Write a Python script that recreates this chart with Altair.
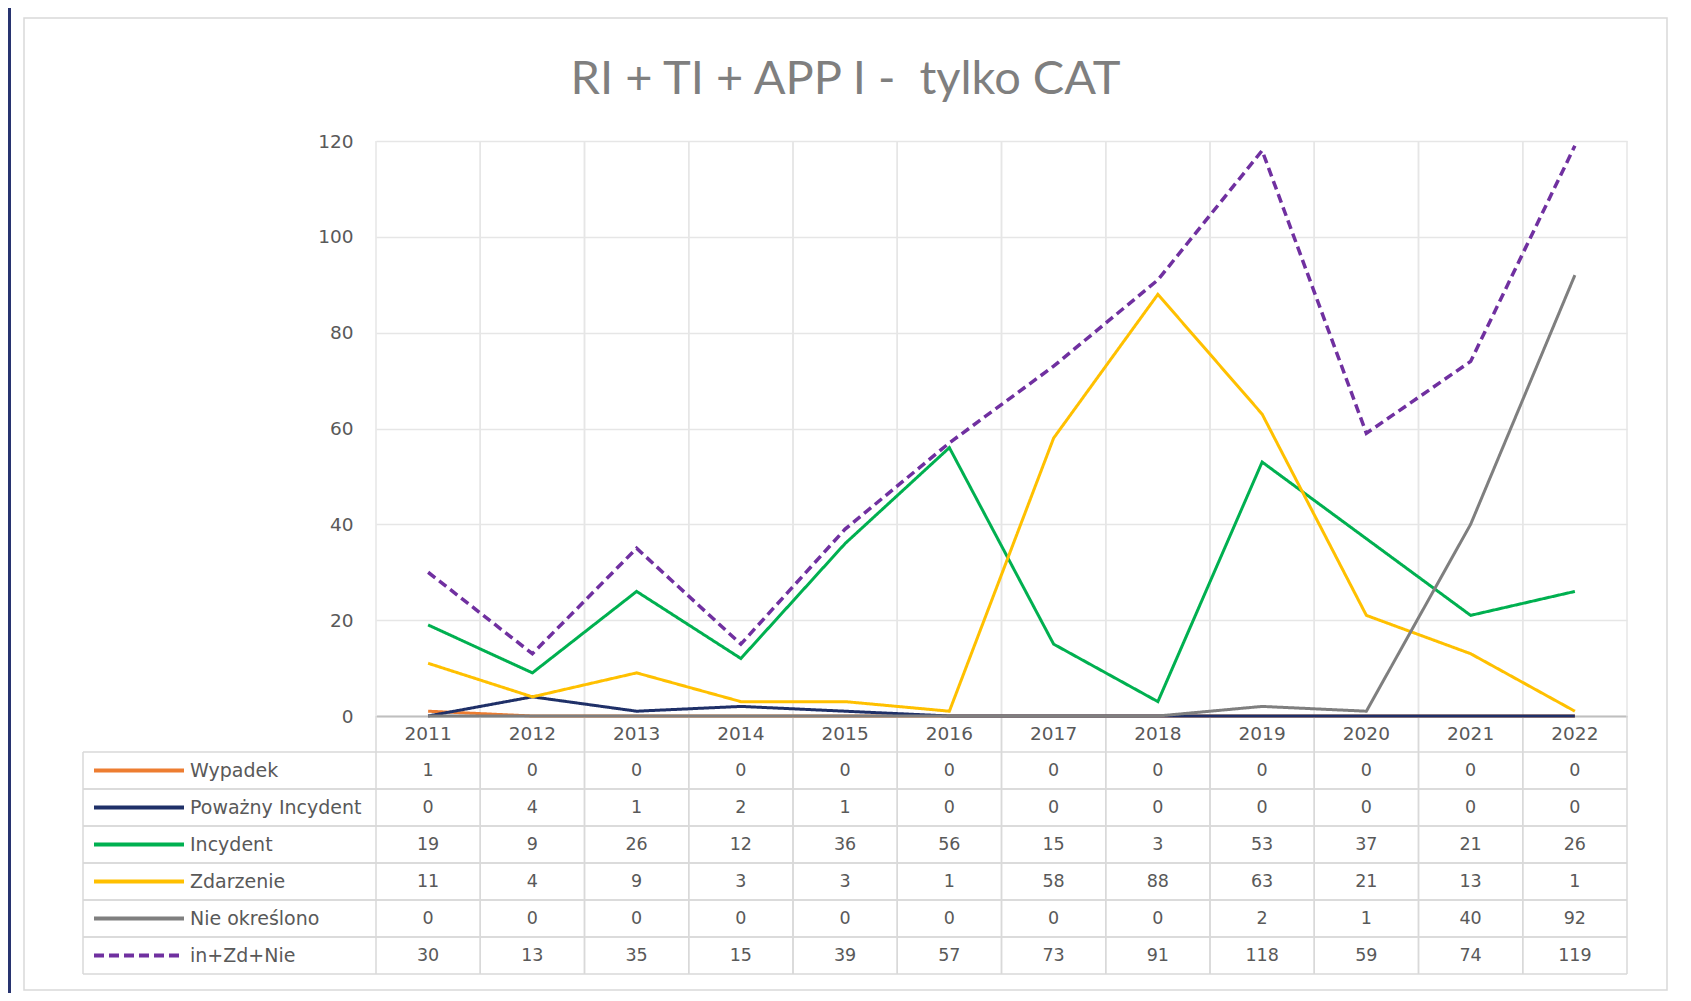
import altair as alt
import pandas as pd

years = ["2011", "2012", "2013", "2014", "2015", "2016", "2017", "2018", "2019", "2020", "2021", "2022"]
series_names = ["Wypadek", "Poważny Incydent", "Incydent", "Zdarzenie", "Nie określono", "in+Zd+Nie"]
wypadek = [1, 0, 0, 0, 0, 0, 0, 0, 0, 0, 0, 0]
powazny = [0, 4, 1, 2, 1, 0, 0, 0, 0, 0, 0, 0]
incydent = [19, 9, 26, 12, 36, 56, 15, 3, 53, 37, 21, 26]
zdarzenie = [11, 4, 9, 3, 3, 1, 58, 88, 63, 21, 13, 1]
nie_okreslono = [0, 0, 0, 0, 0, 0, 0, 0, 2, 1, 40, 92]
suma = [30, 13, 35, 15, 39, 57, 73, 91, 118, 59, 74, 119]
y_ticks = [0, 20, 40, 60, 80, 100, 120]

colors = ["#ED7D31", "#1F3068", "#00B050", "#FFC000", "#7F7F7F", "#7030A0"]
dashes = [[1, 0], [1, 0], [1, 0], [1, 0], [1, 0], [9, 5]]

values = [wypadek, powazny, incydent, zdarzenie, nie_okreslono, suma]
rows = []
for s, vals in zip(series_names, values):
    for y, v in zip(years, vals):
        rows.append({"series": s, "year": y, "value": v})
df = pd.DataFrame(rows)
df_series = pd.DataFrame({"series": series_names})
df_years = pd.DataFrame({"year": years})
one = pd.DataFrame({"k": [0]})

W, H = 1251, 575
TABLE_TOP, TABLE_BOTTOM = 611, 833
LEG_LEFT = -293
GRID = "#E6E6E6"
TGRID = "#D9D9D9"
TXT = "#595959"
FONT = "DejaVu Sans"

xscale = alt.Scale(type="band", domain=years, paddingInner=0, paddingOuter=0)
color_scale = alt.Scale(domain=series_names, range=colors)
dash_scale = alt.Scale(domain=series_names, range=dashes)
yscale_tab = alt.Scale(type="band", domain=series_names, range=[TABLE_TOP, TABLE_BOTTOM],
                       paddingInner=0, paddingOuter=0)

# decorative: navy strip at the left page edge and light outer frame
strip = alt.Chart(one).mark_rect(fill="#283470").encode(
    x=alt.value(-368), x2=alt.value(-365), y=alt.value(-133), y2=alt.value(852))
frame = alt.Chart(one).mark_rect(fillOpacity=0, stroke=TGRID, strokeWidth=1.5).encode(
    x=alt.value(-352), x2=alt.value(1291), y=alt.value(-123), y2=alt.value(849))

# lines
y_axis = alt.Axis(values=y_ticks, grid=True, gridColor=GRID, gridWidth=1.5, domain=False,
                  ticks=False, labelFont=FONT, labelFontSize=18.5, labelColor=TXT,
                  labelPadding=23, title=None)
x_axis = alt.Axis(grid=False, ticks=False, domain=True, domainColor="#BFBFBF", domainWidth=2,
                  labelAngle=0, labelFont=FONT, labelFontSize=18.5, labelColor=TXT,
                  labelAlign="center", bandPosition=0.5, labelPadding=8, title=None)
line_layers = []
for i, s in enumerate(series_names):
    enc = dict(
        x=alt.X("year:O", scale=xscale, bandPosition=0.5, axis=x_axis),
        y=alt.Y("value:Q", scale=alt.Scale(domain=[0, 120], nice=False), axis=y_axis),
        color=alt.Color("series:N", scale=color_scale, legend=None),
        strokeDash=alt.StrokeDash("series:N", scale=dash_scale, legend=None),
    )
    line_layers.append(
        alt.Chart(df).transform_filter(alt.datum.series == s)
        .mark_line(strokeWidth=3 if i < 5 else 3.5, clip=False)
        .encode(**enc)
    )
lines = alt.layer(*line_layers)

# table
tab_y = lambda bp=0.5: alt.Y("series:N", scale=yscale_tab, axis=None, bandPosition=bp)
tab_x = lambda bp=0.5: alt.X("year:O", scale=xscale, bandPosition=bp, axis=x_axis)

cell_text = alt.Chart(df).mark_text(font=FONT, fontSize=17.5, color=TXT, baseline="middle").encode(
    x=tab_x(), y=tab_y(), text="value:Q")
hrule_top = alt.Chart(df_series).mark_rule(color=TGRID, strokeWidth=1.5).encode(
    y=tab_y(0), x=alt.value(LEG_LEFT), x2=alt.value(W))
hrule_bot = alt.Chart(df_series).mark_rule(color=TGRID, strokeWidth=1.5).encode(
    y=tab_y(1), x=alt.value(LEG_LEFT), x2=alt.value(W))
vgrid_l = alt.Chart(df_years).mark_rule(color=GRID, strokeWidth=1.5).encode(
    x=tab_x(0), y=alt.value(0), y2=alt.value(H))
vgrid_r = alt.Chart(df_years).mark_rule(color=GRID, strokeWidth=1.5).encode(
    x=tab_x(1), y=alt.value(0), y2=alt.value(H))
vrule_l = alt.Chart(df_years).mark_rule(color=TGRID, strokeWidth=1.5).encode(
    x=tab_x(0), y=alt.value(H), y2=alt.value(TABLE_BOTTOM))
vrule_r = alt.Chart(df_years).mark_rule(color=TGRID, strokeWidth=1.5).encode(
    x=tab_x(1), y=alt.value(H), y2=alt.value(TABLE_BOTTOM))
leg_border = alt.Chart(one).mark_rule(color=TGRID, strokeWidth=1.5).encode(
    x=alt.value(LEG_LEFT), y=alt.value(TABLE_TOP), y2=alt.value(TABLE_BOTTOM))
swatch = alt.Chart(df_series).mark_rule(strokeWidth=4).encode(
    y=tab_y(), x=alt.value(-282), x2=alt.value(-192),
    color=alt.Color("series:N", scale=color_scale, legend=None),
    strokeDash=alt.StrokeDash("series:N", scale=alt.Scale(domain=series_names,
                              range=[[1, 0]] * 5 + [[10, 5]]), legend=None))
names = alt.Chart(df_series).mark_text(font=FONT, fontSize=19, color=TXT, align="left",
                                       baseline="middle").encode(
    y=tab_y(), x=alt.value(-186), text="series:N")

table = alt.layer(hrule_top, hrule_bot, vgrid_l, vgrid_r, vrule_l, vrule_r, leg_border,
                  cell_text, swatch, names)

chart = alt.layer(strip, frame, table, lines).resolve_scale(
    y="independent", strokeDash="independent"
).properties(
    width=W, height=H,
    title=alt.TitleParams("RI + TI + APP I -\u00a0 tylko CAT", font="Lato", fontSize=47,
                          fontWeight="normal", color="#7F7F7F", anchor="middle", dx=-156,
                          offset=44, dy=140),
    autosize=alt.AutoSizeParams(type="none"),
    padding={"left": 368, "top": 133, "right": 56, "bottom": 277},
).configure(background="white").configure_view(stroke=None)

chart.save("out.html", embed_options={"renderer": "svg", "actions": False})
